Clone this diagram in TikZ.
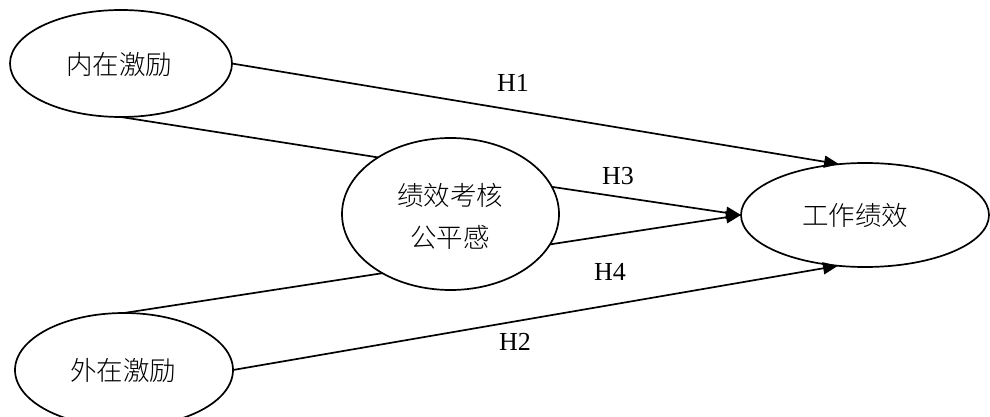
\documentclass[tikz,border=0pt]{standalone}
\usepackage{fontspec}
\setmainfont{Liberation Serif}
\newfontfamily\cjk{Noto Sans CJK SC}[UprightFont=* Light]
\usetikzlibrary{shapes.geometric,arrows.meta}
\tikzset{
  ell/.style={ellipse, draw, line width=1.7pt, inner sep=0pt, outer sep=0pt},
  ctext/.style={font=\cjk\fontsize{26.5}{42}\selectfont, align=center, inner sep=0pt},
  conn/.style={line width=1.7pt},
  arr/.style={conn, -{Triangle[length=15pt,width=12pt]}},
  hlab/.style={font=\fontsize{26}{28}\selectfont, inner sep=0pt}
}
\begin{document}
\begin{tikzpicture}[x=1pt,y=-1pt]
\useasboundingbox (0,0) rectangle (990,417);
\fill[white] (0,0) rectangle (990,417);
\node[ell, minimum width=222pt, minimum height=107pt] (nei) at (121,63.5) {};
\node[ell, minimum width=217pt, minimum height=152pt] (med) at (450.5,214) {};
\node[ell, minimum width=218pt, minimum height=114pt] (wai) at (124,370) {};
\node[ell, minimum width=248pt, minimum height=104pt] (gz) at (865,215) {};
\node[ctext] (neit) at (119,64) {内在激励};
\node[ctext] (medt) at (450,216) {绩效考核\\公平感};
\node[ctext] (wait) at (123,370) {外在激励};
\node[ctext] (gzt) at (855,215) {工作绩效};
\draw[arr] (nei.east) -- (gz.117);
\draw[conn] (nei.south) -- (med.142);
\draw[arr] (med.15.7) -- (gz.west);
\draw[arr] (med.-17) -- (gz.west);
\draw[conn] (wai.north) -- (med.221);
\draw[arr] (wai.east) -- (gz.242);
\node[hlab] (h1) at (513,83) {H1};
\node[hlab] (h3) at (618,176) {H3};
\node[hlab] (h4) at (610,272) {H4};
\node[hlab] (h2) at (515,342) {H2};
\end{tikzpicture}
\end{document}
